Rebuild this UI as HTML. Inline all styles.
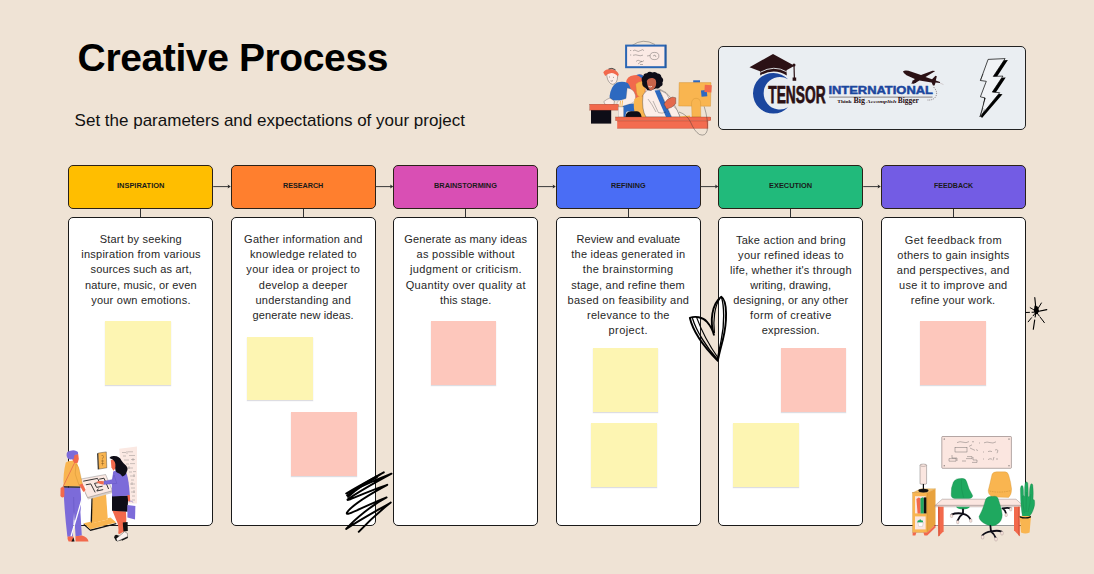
<!DOCTYPE html>
<html>
<head>
<meta charset="utf-8">
<title>Creative Process</title>
<style>
  html, body { margin: 0; padding: 0; }
  body {
    width: 1094px; height: 574px; overflow: hidden; position: relative;
    background: #EFE3D5;
    font-family: "Liberation Sans", sans-serif;
    color: #111;
  }
  .abs { position: absolute; }
  #title {
    position: absolute; left: 77.6px; top: 34.2px;
    font-size: 39px; font-weight: bold; line-height: 48px;
    white-space: nowrap; color: #000; letter-spacing: -0.38px;
    transform-origin: left top;
  }
  #subtitle {
    position: absolute; left: 74.6px; top: 110px;
    font-size: 17px; line-height: 22px; white-space: nowrap; color: #111;
    transform-origin: left top;
  }
  .hdr {
    position: absolute; top: 165px; width: 144.9px; height: 44px;
    box-sizing: border-box; border: 1px solid #2a2118; border-radius: 5px;
    text-align: left; font-weight: bold; font-size: 8px; line-height: 39.6px;
    color: #1a1a1a; white-space: nowrap;
  }
  .hdr span { display: inline-block; transform-origin: left center; }
  .card {
    position: absolute; top: 217px; width: 144.9px; height: 309px;
    box-sizing: border-box; border: 1px solid #1a1a1a; border-radius: 5px;
    background: #fff;
  }
  .txt {
    position: absolute; width: 144.9px; text-align: left;
    color: #262626; white-space: nowrap;
  }
  .stem { position: absolute; top: 209px; width: 1px; height: 8px; background: #333; }
  .note { position: absolute; width: 65.6px; height: 63.6px; box-shadow: 0 1px 1px rgba(120,120,140,0.25); }
  .ny { background: #FDF5B2; }
  .np { background: #FDC7BC; }
  #logo {
    position: absolute; left: 718px; top: 46px; width: 308px; height: 84px;
    box-sizing: border-box; border: 1px solid #222; border-radius: 5px; background: #EAEEF2;
  }
  svg { position: absolute; overflow: visible; }
  .txt span { display: block; position: absolute; line-height: 15px; }
</style>
</head>
<body>

<div id="title">Creative Process</div>
<div id="subtitle">Set the parameters and expectations of your project</div>

<!-- header boxes -->
<!--HDR-START-->
<div class="hdr" style="left:68.3px;background:#FFBE00;"><span style="transform:scaleX(0.9290);margin-left:47.95px">INSPIRATION</span></div>
<div class="hdr" style="left:230.8px;background:#FF7F2E;"><span style="transform:scaleX(0.8974);margin-left:51.30px">RESEARCH</span></div>
<div class="hdr" style="left:393.3px;background:#D94FB4;"><span style="transform:scaleX(0.9210);margin-left:40.10px">BRAINSTORMING</span></div>
<div class="hdr" style="left:555.8px;background:#4A6DF5;"><span style="transform:scaleX(0.9049);margin-left:54.20px">REFINING</span></div>
<div class="hdr" style="left:718.3px;background:#21BA7B;"><span style="transform:scaleX(0.9256);margin-left:49.90px">EXECUTION</span></div>
<div class="hdr" style="left:880.8px;background:#735CE4;"><span style="transform:scaleX(0.8818);margin-left:51.80px">FEEDBACK</span></div>
<!--HDR-END-->

<!-- stems -->
<div class="stem" style="left:140.3px;"></div>
<div class="stem" style="left:302.8px;"></div>
<div class="stem" style="left:465.3px;"></div>
<div class="stem" style="left:627.8px;"></div>
<div class="stem" style="left:790.3px;"></div>
<div class="stem" style="left:952.8px;"></div>

<!-- cards -->
<div class="card" style="left:68.3px;"></div>
<div class="card" style="left:230.8px;"></div>
<div class="card" style="left:393.3px;"></div>
<div class="card" style="left:555.8px;"></div>
<div class="card" style="left:718.3px;"></div>
<div class="card" style="left:880.8px;"></div>

<!-- card text -->
<!--TEXT-START-->
<div class="txt" style="left:68.3px;top:0.00px;font-size:11.0px;"><span style="letter-spacing:0.208px;left:31.45px;top:232px">Start by seeking</span><span style="letter-spacing:0.245px;left:12.97px;top:247px">inspiration from various</span><span style="letter-spacing:0.148px;left:22.22px;top:262px">sources such as art,</span><span style="letter-spacing:0.125px;left:16.81px;top:278px">nature, music, or even</span><span style="letter-spacing:0.234px;left:22.87px;top:293px">your own emotions.</span></div>
<div class="txt" style="left:230.8px;top:0.00px;font-size:11.0px;"><span style="letter-spacing:0.281px;left:13.29px;top:232px">Gather information and</span><span style="letter-spacing:0.274px;left:19.19px;top:247px">knowledge related to</span><span style="letter-spacing:0.331px;left:15.52px;top:262px">your idea or project to</span><span style="letter-spacing:0.249px;left:27.97px;top:278px">develop a deeper</span><span style="letter-spacing:0.262px;left:24.68px;top:293px">understanding and</span><span style="letter-spacing:0.112px;left:21.81px;top:308px">generate new ideas.</span></div>
<div class="txt" style="left:393.3px;top:0.00px;font-size:11.0px;"><span style="letter-spacing:0.138px;left:11.02px;top:232px">Generate as many ideas</span><span style="letter-spacing:0.281px;left:23.29px;top:247px">as possible without</span><span style="letter-spacing:0.363px;left:16.63px;top:262px">judgment or criticism.</span><span style="letter-spacing:0.316px;left:12.41px;top:278px">Quantity over quality at</span><span style="letter-spacing:0.124px;left:46.71px;top:293px">this stage.</span></div>
<div class="txt" style="left:555.8px;top:0.00px;font-size:11.0px;"><span style="letter-spacing:0.093px;left:20.60px;top:232px">Review and evaluate</span><span style="letter-spacing:0.237px;left:15.47px;top:247px">the ideas generated in</span><span style="letter-spacing:0.335px;left:27.02px;top:262px">the brainstorming</span><span style="letter-spacing:0.192px;left:15.45px;top:278px">stage, and refine them</span><span style="letter-spacing:0.276px;left:11.79px;top:293px">based on feasibility and</span><span style="letter-spacing:0.282px;left:31.19px;top:308px">relevance to the</span><span style="letter-spacing:0.403px;left:52.75px;top:323px">project.</span></div>
<div class="txt" style="left:718.3px;top:0.00px;font-size:11.0px;"><span style="letter-spacing:0.253px;left:17.68px;top:233px">Take action and bring</span><span style="letter-spacing:0.292px;left:19.80px;top:248px">your refined ideas to</span><span style="letter-spacing:0.226px;left:11.76px;top:263px">life, whether it's through</span><span style="letter-spacing:0.083px;left:31.99px;top:278px">writing, drawing,</span><span style="letter-spacing:0.138px;left:14.92px;top:293px">designing, or any other</span><span style="letter-spacing:0.368px;left:31.73px;top:308px">form of creative</span><span style="letter-spacing:0.149px;left:43.52px;top:323px">expression.</span></div>
<div class="txt" style="left:880.8px;top:0.00px;font-size:11.0px;"><span style="letter-spacing:0.406px;left:23.95px;top:233px">Get feedback from</span><span style="letter-spacing:0.225px;left:16.56px;top:248px">others to gain insights</span><span style="letter-spacing:0.241px;left:16.07px;top:263px">and perspectives, and</span><span style="letter-spacing:0.304px;left:18.20px;top:278px">use it to improve and</span><span style="letter-spacing:0.187px;left:30.04px;top:293px">refine your work.</span></div>
<!--TEXT-END-->

<!-- sticky notes -->
<div class="note ny" style="left:105px;top:321px;"></div>
<div class="note ny" style="left:247.2px;top:336.8px;"></div>
<div class="note np" style="left:291px;top:412px;"></div>
<div class="note np" style="left:430.8px;top:321px;"></div>
<div class="note ny" style="left:592.6px;top:348px;"></div>
<div class="note ny" style="left:591px;top:423px;"></div>
<div class="note np" style="left:780.6px;top:348px;"></div>
<div class="note ny" style="left:733px;top:423px;"></div>
<div class="note np" style="left:920px;top:321px;"></div>

<!-- logo box -->
<div id="logo"></div>

<!-- arrows between headers -->
<svg id="arrows" width="1094" height="574" style="left:0;top:0;" viewBox="0 0 1094 574">
  <path d="M213.2 186.6H229.8" stroke="#3a3a3a" stroke-width="1" fill="none"/><path d="M230.8 186.6L227.6 184.6L228.2 186.6L227.6 188.6Z" fill="#2a2a2a"/>
  <path d="M375.7 186.6H392.3" stroke="#3a3a3a" stroke-width="1" fill="none"/><path d="M393.3 186.6L390.1 184.6L390.7 186.6L390.1 188.6Z" fill="#2a2a2a"/>
  <path d="M538.2 186.6H554.8" stroke="#3a3a3a" stroke-width="1" fill="none"/><path d="M555.8 186.6L552.6 184.6L553.2 186.6L552.6 188.6Z" fill="#2a2a2a"/>
  <path d="M700.7 186.6H717.3" stroke="#3a3a3a" stroke-width="1" fill="none"/><path d="M718.3 186.6L715.1 184.6L715.7 186.6L715.1 188.6Z" fill="#2a2a2a"/>
  <path d="M863.2 186.6H879.8" stroke="#3a3a3a" stroke-width="1" fill="none"/><path d="M880.8 186.6L877.6 184.6L878.2 186.6L877.6 188.6Z" fill="#2a2a2a"/>
</svg>


<!-- LOGO + DOODLES -->
<svg id="art1" width="1094" height="574" style="left:0;top:0;" viewBox="0 0 1094 574">
  <!-- crescent -->
  <path d="M788 79.3 A20.3 20.3 0 1 0 788 107.3 A16.2 16.2 0 1 1 788 79.3 Z" fill="#1B469E"/>
  <!-- graduation cap -->
  <path d="M749.5 67.3 L773 54 L794.5 65.8 L786.5 70.3 L786.8 75.5 Q774 67.5 760.3 75.5 L760 71.2 Z" fill="#2B1115"/>
  <path d="M760.2 72.3 Q774 64.5 786.7 71.8" fill="none" stroke="#EAEEF2" stroke-width="0.9"/>
  <path d="M794 65.5 L794.4 78.5" stroke="#2B1115" stroke-width="1.2" fill="none"/>
  <circle cx="794" cy="65" r="1.5" fill="#2B1115"/>
  <path d="M792.6 77.5 h3.6 v3.3 h-3.6 Z" fill="#2B1115"/>
  <!-- TENSOR -->
  <text x="768.3" y="102.8" font-family="Liberation Sans" font-weight="bold" font-size="24.3" fill="#2B1115" stroke="#2B1115" stroke-width="0.75" textLength="57.3" lengthAdjust="spacingAndGlyphs">TENSOR</text>
  <!-- INTERNATIONAL -->
  <text x="828.4" y="94" font-family="Liberation Sans" font-weight="bold" font-size="11.8" fill="#1B469E" stroke="#1B469E" stroke-width="0.5" textLength="104.6" lengthAdjust="spacingAndGlyphs">INTERNATIONAL</text>
  <rect x="829" y="96.4" width="103.5" height="1.5" fill="#A9A6A8"/>
  <!-- tagline -->
  <text y="102.9" font-family="Liberation Serif" font-weight="bold" fill="#2B1115">
    <tspan x="837.2" font-size="4.6" textLength="14.5" lengthAdjust="spacingAndGlyphs">Think</tspan>
    <tspan x="853.5" font-size="7.2" textLength="11.5" lengthAdjust="spacingAndGlyphs">Big</tspan>
    <tspan x="866.5" font-size="4.4" font-style="italic" textLength="30" lengthAdjust="spacingAndGlyphs">Accomplish</tspan>
    <tspan x="897.8" font-size="7.2" textLength="21" lengthAdjust="spacingAndGlyphs">Bigger</tspan>
  </text>
  <!-- plane -->
  <g fill="#2B1115">
    <path d="M903 71.3 Q905 69.8 908.5 70.8 L921 75 L932.5 70.8 L935.3 71 L925.5 77 L932 79.3 L935.5 75.8 L936.8 76.2 L935.8 80.6 L940 82 L940 83 L935.6 82.6 L934.5 85.6 L933 85.4 L931.6 82.6 L919.5 80.4 L913.8 83.8 L911.2 83.4 L914.8 79 L906.5 75.3 Q903.3 73.6 903 71.3 Z"/>
    <ellipse cx="914.3" cy="81.6" rx="2.1" ry="1.1" transform="rotate(18 914.3 81.6)"/>
  </g>
  <path d="M940 83 L943.5 84.6" stroke="#b9a9aa" stroke-width="0.5"/>
  <path d="M933.5 87 Q938.5 92 935.5 97 Q933 100.5 927 100" fill="none" stroke="#2B1115" stroke-width="0.45" stroke-dasharray="1.3 0.9"/>
  <!-- lightning bolt -->
  <path d="M990.9 60.9 L1007.9 60.1 L996.1 77.9 L1005.7 77.6 L995.1 93.6 L1002.5 94.2 L982 118 L981 116.8 Z" fill="#000"/>
  <path d="M988.1 59.4 L1005.1 58.6 L993.3 76.4 L1002.9 76.1 L992.3 92.1 L999.7 92.7 L980 116.8 L985.2 98 L980.4 96.8 L986.3 81.3 L980.4 80.5 Z" fill="#F1F3F6" stroke="#000" stroke-width="0.7" stroke-linejoin="round"/>
  <path d="M980 116.8 L983 108 M981.8 116 L984.5 109.5 M980.4 80.5 L983 74" stroke="#000" stroke-width="0.4" fill="none"/>

  <!-- scribble -->
  <path d="M383.8 472.3 C372 479 357 487 346.2 493.6 C358 488 378 479 391.5 473.7 C378 481 360 491 347.5 499.5 C346.5 502 360 494 387.3 484.8 C372 493 352 505 347 512.5 C344.5 517.5 360 508 386.6 497.4 C372 505 355 519 346.2 529 C358 521 378 510 390.8 502.5 C380 511 368 522 358.7 531.8"
        fill="none" stroke="#000" stroke-width="1.9" stroke-linecap="round" stroke-linejoin="round"/>
  <path d="M380 474.5 C368 481 355 489 347 495.5 M377 477.5 C366 483 356 489.5 348 497" fill="none" stroke="#000" stroke-width="1.8" stroke-linecap="round"/>

  <!-- heart doodle -->
  <g fill="none" stroke="#000" stroke-linecap="round" stroke-linejoin="round">
    <path stroke-width="1.9" d="M689.8 317.8 C695 316 702.5 316.8 707 321.8 C710.8 326.2 713 331 713.9 334.8 C709.8 322 711.5 304 721.3 296.8 C727.6 301 727.2 322 722.8 340 C721 347 719 354 717.8 360.8 C709 352 694 336 689.8 317.8 Z"/>
    <path stroke-width="1.35" d="M692.6 318.6 C696 330 706 347 717.6 359.5"/>
    <path stroke-width="1.2" d="M696.6 317.4 C700.5 328 709 345 717.8 357.5"/>
    <path stroke-width="1.35" d="M721.6 297.6 C724.2 306 724.6 324 721.4 339 C720 347 718.4 353 717.6 358.5"/>
    <path stroke-width="1.2" d="M719.6 299 C714.6 306 713 320 714.4 332.5"/>
  </g>
  <!-- star doodle -->
  <g stroke="#000" stroke-linecap="round" fill="none">
    <path d="M1036.2 311.5 L1034.8 297.6" stroke-width="1.1"/>
    <path d="M1036.5 311 L1041.4 303" stroke-width="1"/>
    <path d="M1036.5 311.8 L1046.8 309.6" stroke-width="1.1"/>
    <path d="M1037 313 L1044.2 322.4" stroke-width="1" stroke-dasharray="4 1.5 6 0"/>
    <path d="M1035.6 314 L1033.3 329.3" stroke-width="1.1" stroke-dasharray="3 3 8 0"/>
    <path d="M1035 313.5 L1028.2 321.8" stroke-width="1" stroke-dasharray="3 2.5 8 0"/>
    <path d="M1034 312.2 L1026 312.5" stroke-width="1" stroke-dasharray="2 2.5 8 0"/>
    <path d="M1035 310.5 L1030.2 307.7" stroke-width="0.9"/>
  </g>
  <path d="M1034.6 305.5 L1037.6 306.5 L1039 310.6 L1037.8 314 L1035 314.2 L1033.8 311 Z" fill="#000"/>
</svg>


<!-- TOP ILLUSTRATION -->
<svg id="art2" width="1094" height="574" style="left:0;top:0;" viewBox="0 0 1094 574">
  <!-- whiteboard -->
  <path d="M632 45.5 Q643 37.5 655 44.5" fill="none" stroke="#3a3a3a" stroke-width="0.4"/>
  <rect x="626.1" y="45.6" width="39.3" height="21.6" fill="#FBEAE5" stroke="#2A66B4" stroke-width="2"/>
  <path d="M666 44.8 V68" stroke="#1d4a8a" stroke-width="0.8"/>
  <g fill="none" stroke="#333" stroke-width="0.35">
    <path d="M630 50.5 h1.2 M633 50.8 q2 -1.5 3.5 0 t4 -0.3 t3.5 0.2 M630 55 h1.2 M633 55.3 q3 -1 5 0 t5 -0.2 M636 61.5 q2 -2.5 4 -0.5 t4 -0.5 M638 64 l4 -3 M640 64.5 h3"/>
    <ellipse cx="654.5" cy="56" rx="4.4" ry="3.6"/>
    <path d="M647 56 l3 -0.5 M653 56 l2 -1 l1 2"/>
  </g>
  <!-- man's chair -->
  <path d="M626 83 Q626.6 75.6 634 75.2 L641.5 74.6 Q645 77 645.4 84 L645.6 98 L636 100 Q632 96 630 90 Z" fill="#F2694C"/>
  <path d="M636.5 75 Q641.5 72.8 644.6 77.2 L645.3 83 Q642 77 636.5 75 Z" fill="#2D69C0"/>
  <!-- blue lower body -->
  <path d="M622.5 104.5 L635 103.5 L635 111.5 L627 111.5 Q625.6 112.5 625.4 117 L622.5 117 Z" fill="#2D69C0"/>
  <!-- man body -->
  <path d="M609.6 96 Q611 86 617 82.4 Q623 80.6 627.6 83 Q631.6 87 630.4 94 L627 100 L610 100.5 Z" fill="#2D69C0"/>
  <path d="M627.2 88 Q633.6 88.6 635.4 95 Q636.6 101.6 631 103.6 L621.6 106.6 Q616.6 106.6 617 103.2 L618 101 L626 98.6 Z" fill="#FCEEE8" stroke="#555" stroke-width="0.25"/>
  <path d="M610 98 Q606.5 99.2 603.8 101.6 Q604 105 608 105.4 L614 104.4 L614.4 101 Z" fill="#FCEEE8" stroke="#222" stroke-width="0.3"/>
  <!-- man head -->
  <path d="M606.8 76 Q606 69.8 612 69.6 Q617.8 70 617.6 76.5 Q617.4 83.6 612.8 84.4 Q608 83.5 606.8 76 Z" fill="#FCEEE8" stroke="#222" stroke-width="0.35"/>
  <path d="M603.3 72.6 Q604.5 69.5 609 69.2 Q616 68.6 618.8 74.2 L618 76.6 Q615 73 611.5 73 Q607.5 73.6 605.2 76 Z" fill="#F2694C"/>
  <path d="M608.5 69 Q612 67.2 615.5 69.8" fill="none" stroke="#111" stroke-width="0.7"/>
  <path d="M609 77 h1 M613 77.4 h1 M610.6 80.8 q1.3 0.8 2.4 -0.2" stroke="#222" stroke-width="0.4" fill="none"/>
  <!-- pillow -->
  <path d="M635.8 84 Q639.6 80.6 644.6 82 Q646 88 644.4 94 L640.4 97.6 Q636 95.4 636.4 90 Z" fill="#F9B550" stroke="#c98a2d" stroke-width="0.3"/>
  <path d="M634.4 99 Q638.6 95.4 643.6 96.4 L646 104 Q647 111 651.6 117 L636 117 Q632.6 108 634.4 99 Z" fill="#F9B550"/>
  <!-- woman coat -->
  <path d="M643 95 Q646.6 89 653 88.6 L660 89.4 Q667 92 670 97 L676 108 L680 117 L646 117 Q641.4 110 643 95 Z" fill="#FCEEE8" stroke="#222" stroke-width="0.35"/>
  <path d="M654.6 90.4 L659.6 90 L671.6 117 L666 117 Z" fill="#2D69C0"/>
  <path d="M659.6 90 L666.4 93.6 L672.6 105 L677 110 L680 117 L671.6 117 Z" fill="#FCEEE8" stroke="#222" stroke-width="0.3"/>
  <path d="M648 99 Q652 104 656 112 M653 101 L658.4 112.6 Q662 114 666 112" fill="none" stroke="#222" stroke-width="0.3"/>
  <!-- woman hands -->
  <path d="M664 104 Q666.6 98.6 672.4 97 L675.8 97.8 L675.8 103.6 Q672 108.4 666.6 109 Z" fill="#E4694C" stroke="#222" stroke-width="0.3"/>
  <!-- woman head -->
  <path d="M642.2 82 Q640.6 78 643.4 76 Q643.6 73 647 73.2 Q649 70.8 652.4 72.4 Q655.6 71.2 657.6 73.6 Q661 73.8 661.4 77 Q664.4 79.4 662.4 82.6 Q663.4 85.8 660.2 86.8 Q659 89.4 656 88.2 L651 90.4 Q647 91 645.6 88 Q641.6 86.6 642.2 82 Z" fill="#0E0D17"/>
  <path d="M646.8 81 Q648.2 77.8 652.4 78 Q656 78.4 656.2 82.4 Q656.2 87.4 653 89.4 Q651 91 649.4 89.6 Q647.4 87 646.8 81 Z" fill="#C8644A"/>
  <path d="M648.4 86.2 q1.8 1.4 3.6 0.2" stroke="#fff" stroke-width="0.7" fill="none"/>
  <!-- left small desk -->
  <rect x="591" y="110" width="20.2" height="13.6" fill="#0E0D17"/>
  <rect x="589.8" y="104.2" width="28.6" height="5.9" fill="#F2694C" stroke="#8a2f1f" stroke-width="0.3"/>
  <!-- cup + pencils -->
  <path d="M619.8 107 L620.5 101 M621.8 107 L622.6 100.5" stroke="#F9B550" stroke-width="0.9"/>
  <rect x="618.4" y="107" width="5.1" height="10" fill="#FCEEE8" stroke="#999" stroke-width="0.3"/>
  <!-- black object -->
  <path d="M625.3 117 Q626 111.6 631 111.3 L637 111.3 Q641 111.8 641.6 117 Z" fill="#0E0D17"/>
  <!-- monitor -->
  <rect x="693.2" y="80.3" width="6.8" height="2.4" fill="#2D69C0"/>
  <path d="M679.2 82.6 L711 82.6 L710.5 106.2 L678.7 106 Z" fill="#F9B550" stroke="#c98a2d" stroke-width="0.4"/>
  <path d="M691.5 103 Q692 98.5 696 98.3 Q700.5 98.5 700.6 103 L700.8 117 L692 117 Z" fill="#F9B550" stroke="#c98a2d" stroke-width="0.35"/>
  <path d="M680 116.5 L690 115.5 L690 117.2 L680 117.2 Z" fill="#F9B550"/>
  <rect x="701.2" y="90.2" width="5.8" height="6.3" fill="#2D69C0" transform="rotate(-6 704 93)"/>
  <rect x="704.6" y="85" width="7" height="7.2" fill="#F2694C" transform="rotate(4 708 88.5)"/>
  <!-- desk -->
  <rect x="615.6" y="117" width="95.2" height="3.6" fill="#F2694C" stroke="#8a2f1f" stroke-width="0.3"/>
  <rect x="617.2" y="120.6" width="91" height="7.8" fill="#F36C50"/>
  <path d="M617.2 121 H708.2" stroke="#b8432c" stroke-width="0.4"/>
  <path d="M617.2 128.4 H708.2" stroke="#b8432c" stroke-width="0.35"/>
  <!-- cable -->
  <path d="M679 112 Q687 114.5 690.5 122 Q694.5 131.5 699.5 134.5 Q705.5 136.8 707.2 130.5 Q708.5 120 704.2 106.5" fill="none" stroke="#333" stroke-width="0.4"/>
</svg>


<!-- BOTTOM-LEFT ILLUSTRATION -->
<svg id="art3" width="1094" height="574" style="left:0;top:0;" viewBox="0 0 1094 574">
  <!-- wall panel -->
  <path d="M119.2 448.8 L137 446.6 L137 503.5 L128 503.5 L121 470 Z" fill="#FBE9E3"/>
  <g stroke="#555" stroke-width="0.3" fill="none">
    <path d="M122 452.5 h4 M128 451.8 h5 M123 456 h3 M129 455.5 h6 M124 460 h5 M131 459.5 h4 M126 464 h3 M130 463.6 h5 M127 468 h6 M129 472 h3 M133 471.6 h3 M130 476 h5 M131 480 h3 M130 484 h5 M131 488 h4 M131 492 h4 M132 496 h3 M132 500 h3"/>
    <path d="M127 451 v3 M133 458 v3 M129 466 v3 M134 474 v3 M132 482 v3 M134 490 v3"/>
  </g>
  <!-- sign -->
  <path d="M97.2 453.4 L98.4 453.1 L98.9 469.2 L97.8 469.5 Z" fill="#111"/>
  <path d="M98.2 453.1 L106.3 451.9 L106.8 467.8 L98.8 469.1 Z" fill="#F9B550" stroke="#111" stroke-width="0.35"/>
  <path d="M101.5 455.5 q2 -0.8 2 1.2 t-1.6 1.8 M101 461 h3 M101.2 463.5 h3 M102.5 459.5 v6" stroke="#5a3b10" stroke-width="0.35" fill="none"/>

  <!-- kiosk stand -->
  <path d="M92.3 495.6 L105.9 492.6 L107.8 519.4 L91.5 523.4 Z" fill="#F9B550"/>
  <path d="M91.5 496 L92.6 495.6 L92 523.4 L90.6 523.1 Z" fill="#111"/>
  <!-- kiosk base -->
  <path d="M83.7 523.6 L90.4 529.6 L116.3 522.9 L116.3 524.3 L90.4 531 L83.7 525 Z" fill="#111"/>
  <path d="M83.7 523.3 L91.5 521.5 L91.6 523.3 L107.7 519.4 L107.5 518.2 L110.5 517.6 L116.3 522.5 L90.4 529.2 Z" fill="#F9B550"/>
  <!-- kiosk table top -->
  <path d="M79.4 480 L80.2 482.6 L88 499.6 L112.6 492.9 L112.4 490.7 Z" fill="#d9cfc8"/>
  <path d="M79 479.4 L105.6 474.5 L112.4 490.7 L87.6 497.5 Z" fill="#FBE9E3" stroke="#444" stroke-width="0.3"/>
  <g stroke="#222" stroke-width="0.9" fill="none" stroke-linejoin="round">
    <path d="M83.2 481.2 L97.5 478.4 L99.5 482.4 L94.5 483.4 L96.6 487.4 L102.6 486.2"/>
    <path d="M85.8 484.8 L90.8 483.9 L95.2 492.4"/>
    <path d="M99.2 479.2 L104 478.2 L108.6 489"/>
    <path d="M98.4 488.6 L96.8 491 L103.2 489.6"/>
  </g>

  <!-- man: cane -->
  <!-- man trousers -->
  <path d="M63.5 487.2 L80.2 487.4 Q82 500 80.4 512 L81.8 535.6 L75.6 536.6 L74 512 L72.8 536.8 L67.4 536.8 Q64.2 510 63.5 487.2 Z" fill="#7C6BD9"/>
  <path d="M73.6 497 L74.2 520" stroke="#5747b5" stroke-width="0.35"/>
  <path d="M85.7 486.2 L71.2 535.8" stroke="#FDFDFD" stroke-width="1.3" stroke-linecap="round"/>
  <!-- man shoes -->
  <path d="M67.6 536.4 L73.4 536.4 L73.4 541.4 L68.6 541.4 Q67 539 67.6 536.4 Z" fill="#F2694C"/>
  <path d="M75.4 536.2 L82 535.6 Q87.6 537.4 88.6 541.4 L75.6 541.4 Z" fill="#F2694C"/>
  <path d="M71.4 541.4 L73.4 537.2 L74.6 541.4 Z" fill="#111"/>
  <!-- man shirt -->
  <path d="M65.8 462.4 Q70 459.4 76.6 461.6 Q78.6 466 79 472 L80.4 486.6 L63.6 486.6 Q62.8 474 65.8 462.4 Z" fill="#F9B550"/>
  <path d="M63.5 486.2 L80.4 486.4 L80.4 487.7 L63.5 487.5 Z" fill="#111"/>
  <!-- arm -->
  <path d="M76 464 Q79 466 79.8 472 L82.4 484 L79 485.2 L75.2 474 Z" fill="#F9B550" stroke="#b97d22" stroke-width="0.3"/>
  <path d="M79.2 484.8 L82.6 483.8 L85.4 489.4 Q85.4 492.2 83.2 491.8 Z" fill="#F2694C"/>
  <!-- strap + bag -->
  <path d="M74.4 463.2 L62.4 488" stroke="#E4694C" stroke-width="0.8"/>
  <path d="M60.6 488 Q62.4 486.2 64.4 487.6 L64.4 496.4 Q62 498.6 60.4 496 Z" fill="#F2694C"/>
  <!-- man head -->
  <path d="M72.8 454.4 L78.2 454 L78.8 459 L77.8 462.8 L74.4 463.2 L72.4 460 Z" fill="#F2694C"/>
  <path d="M66.6 455.4 Q66.2 451.2 70.4 450.8 Q73.6 449.6 76.2 451 Q78.6 451.6 78 454.2 L74.6 455 L73.6 459.2 L70.2 459.6 Q67 458.6 66.6 455.4 Z" fill="#7C6BD9"/>

  <!-- woman: legs -->
  <path d="M112.4 510.6 L126 511.6 Q127 520 125.4 528 L124.6 531 L119.6 534 L118.2 533.4 Q119.4 526 116.2 520 Z" fill="#F2694C"/>
  <path d="M122.8 522.4 L127.6 522 L127.8 531 L123.4 531.4 Z" fill="#111"/>
  <!-- shoes -->
  <path d="M114.2 537.6 Q114 535.6 116 534.8 L120 536 L120.8 540.4 L116 541 Z" fill="#111"/>
  <path d="M116.2 538.6 L124.6 531.6 L127.4 533.4 L127.6 536.6 L117.2 541.4 Z" fill="#FBF3EF" stroke="#111" stroke-width="0.35"/>
  <path d="M121 539.8 L127.8 536.6 L127.8 538 L122 540.8 Z" fill="#111"/>
  <!-- skirt -->
  <path d="M112 495.4 L128.2 495.4 L127.6 511.8 L112 510.8 Z" fill="#0E0D17"/>
  <!-- bag -->
  <path d="M128.8 502 Q131 499.6 133.2 502.4" stroke="#5747b5" stroke-width="0.5" fill="none"/>
  <path d="M127.4 505 L135.4 506 L135 519.6 L127.4 517.6 Z" fill="#7C6BD9"/>
  <!-- sweater -->
  <path d="M113.2 471.6 Q119 468.6 126.6 473.4 Q129 480 129.8 495.4 L112.2 496.4 Q111 485 113.2 471.6 Z" fill="#7C6BD9"/>
  <path d="M114 475 L116.8 483.4 L103.6 484.4 L103.8 481.2 L112.6 479.4 Z" fill="#7C6BD9" stroke="#5747b5" stroke-width="0.3"/>
  <path d="M96.2 482 Q99 480.6 103.8 481.2 L103.6 484.4 Q99.6 484.6 96.2 482 Z" fill="#F2694C"/>
  <path d="M127.4 495 L129.8 495 L130.2 501 L128.2 501.4 Z" fill="#F2694C"/>
  <!-- woman head -->
  <path d="M110.8 460 L115.4 459.2 L116.2 467.6 L113.4 470.8 L111.4 467.2 Z" fill="#F2694C"/>
  <path d="M109.4 458 Q110.6 455.6 114.2 456 Q119.6 456 121.4 460.6 Q123.2 463.4 126 465.6 Q128.6 468.4 126.8 471.6 Q126 475.4 122.4 476.6 Q120.6 473.4 117 472.4 Q114.6 470.6 115.4 466.4 Q115.8 461.4 112.6 459.4 Z" fill="#0E0D17"/>
</svg>


<!-- BOTTOM-RIGHT ILLUSTRATION -->
<svg id="art4" width="1094" height="574" style="left:0;top:0;" viewBox="0 0 1094 574">
  <path d="M935.6 525.6 H1014" stroke="#fff" stroke-opacity="0.55" stroke-width="1.4"/>
  <!-- whiteboard -->
  <rect x="941.8" y="436.5" width="69.6" height="31.8" rx="0.8" fill="#FBE6E0" stroke="#6b5a58" stroke-width="0.5"/>
  <g fill="#333"><circle cx="944.2" cy="439" r="0.55"/><circle cx="1009" cy="439" r="0.55"/><circle cx="944.2" cy="465.8" r="0.55"/><circle cx="1009" cy="465.8" r="0.55"/></g>
  <g fill="none" stroke="#444" stroke-width="0.35">
    <path d="M957 442.6 q3 -1.6 6 -0.4 t6 -0.6 M972 442 q1 -1 2 0 M979 443 h1 M984 442.8 q3 -1.4 6 -0.2 t6 -0.8"/>
    <rect x="955" y="447.6" width="12" height="4.4"/>
    <path d="M969 446.4 l3 -1.6 M970 448 l5 2.4 M976 449.6 l2 1"/>
    <path d="M983 452 h1 M988 451.6 q2 -1 4 0 M995 450 q2 -1 3 0.6 l-1 2.6"/>
    <path d="M952 455 v3 h5 v3 M949 458.6 h7 v2.6 h-7 z M962 461 h4 M967 456.6 h5 v2 h-6 M973 457 v3 h4 v2.4 h-5"/>
    <path d="M983 459 h1 M988 459.6 q2 -1.6 4 -0.4 M994 457 l-1 3.4 M996 459 h2"/>
  </g>
  <!-- shelf -->
  <path d="M912.6 492.8 L921 488.8 L935.5 488.8 L927 492.8 Z" fill="#FBC56E" stroke="#b97d22" stroke-width="0.3"/>
  <path d="M927 492.8 L935.5 488.8 L935.5 524.4 L927 532.4 Z" fill="#E8A23E"/>
  <rect x="912.6" y="492.8" width="14.4" height="39.6" fill="#F9B550" stroke="#b97d22" stroke-width="0.3"/>
  <rect x="915" y="496.2" width="10.6" height="17.2" fill="#FBE6E0"/>
  <path d="M916.4 499 L918.6 497.4 L920.4 498.2 L920.6 513.4 L917.6 513.4 Z" fill="#F2694C"/>
  <path d="M920.4 498.6 L922.6 497.2 L923.8 498 L923.8 513.4 L920.6 513.4 Z" fill="#1FA85F"/>
  <rect x="923.8" y="497.4" width="2.6" height="16" fill="#111"/>
  <rect x="915" y="516.4" width="10.6" height="13" fill="#FBE6E0"/>
  <path d="M917.2 522.6 q0.4 -3.2 2 -2.2 q1 -2.4 2 0 q1.8 -1 2 2.2 Z" fill="#1FA85F"/>
  <path d="M918 522.6 h5.2 l-0.7 3.8 h-3.8 Z" fill="#fff" stroke="#888" stroke-width="0.25"/>
  <path d="M912.6 532.4 L916.4 532.4 L915.4 535.4 L912.6 535.4 Z M923.4 532.4 L927 532.4 L935.5 524.4 L935.5 527.4 L927.2 535.6 L924.4 535.6 Z" fill="#F2694C"/>

  <!-- lamp -->
  <rect x="920" y="464.6" width="6.6" height="19.6" rx="1" fill="#FBE6E0" stroke="#444" stroke-width="0.35"/>
  <ellipse cx="923.3" cy="465.2" rx="3.2" ry="1.2" fill="#FBE6E0" stroke="#444" stroke-width="0.3"/>
  <rect x="922.8" y="484" width="1.2" height="6" fill="#111"/>
  <ellipse cx="923.4" cy="490.6" rx="5.1" ry="1.9" fill="#111"/>
  <!-- back-left green chair -->
  <path d="M953.4 482 Q955.4 478.2 961 478.4 Q965.6 478 966.6 481.6 Q968.4 489 972.6 495.4 Q973 498 969 498.4 L954.6 498.6 Q950.8 498 951.2 494 Q951 487 953.4 482 Z" fill="#1FA85F" stroke="#157a45" stroke-width="0.3"/>
  <path d="M961.4 479.6 Q960.6 489 963.6 497.6" fill="none" stroke="#157a45" stroke-width="0.3"/>
  <!-- orange chair (back-right) -->
  <path d="M992 474.6 Q993 471.6 997 471.8 L1005 471.8 Q1008 472 1008.8 475.6 Q1011 482.6 1011.6 489 Q1011.6 495 1008.6 497.4 L992.6 497 Q988.2 495 988.2 490.6 Q990.4 482 992 474.6 Z" fill="#F9B550" stroke="#c98a2d" stroke-width="0.3"/>
  <path d="M989.6 491 Q1000 493.4 1010.8 490.6" fill="none" stroke="#a86f1c" stroke-width="0.3" stroke-dasharray="1.6 0.8"/>

  <!-- table -->
  <path d="M935.2 505.4 L942.2 499.2 L1016 499.2 L1023 505.4 Z" fill="#FBE6E0" stroke="#6b5a58" stroke-width="0.35"/>
  <path d="M935.2 505.4 L1023 505.4 L1023 506.8 L935.2 506.8 Z" fill="#FBE6E0" stroke="#6b5a58" stroke-width="0.3"/>
  <path d="M938 506.8 L943.6 506.8 L943.6 531.2 L938.4 536.4 Z" fill="#F2694C"/>
  <path d="M938 506.8 L939.4 506.8 L939.6 535.2 L938.4 536.4 Z" fill="#d9553a"/>
  <path d="M1014 506.8 L1019.6 506.8 L1019.6 536.2 L1014 530.2 Z" fill="#F2694C"/>
  <path d="M1018.2 506.8 L1019.6 506.8 L1019.6 536.2 L1018.4 535 Z" fill="#d9553a"/>

  <!-- back-left chair seat + base -->
  <path d="M956 506.8 L970 506.8 Q968 509.4 963 509.4 Q958 509.4 956 506.8 Z" fill="#1FA85F"/>
  <g stroke="#0E0D17" stroke-width="1.8" fill="none" stroke-linecap="round">
    <path d="M963 509.4 L963 514 M963 513.6 Q956 512.6 951.6 514.6 M963 513.8 Q959.4 516 957.6 520.6 M963 513.8 Q968.6 515 970.4 519.4"/>
  </g>
  <g fill="#FBE6E0" stroke="#6b5a58" stroke-width="0.25"><rect x="950.4" y="514.2" width="2.3" height="3.3" rx="0.8"/><rect x="956.6" y="520.4" width="2.3" height="3.3" rx="0.8"/><rect x="969.6" y="519" width="2.3" height="3.3" rx="0.8"/></g>
  <!-- orange chair base -->
  <g stroke="#0E0D17" stroke-width="1.8" fill="none" stroke-linecap="round">
    <path d="M1002.4 508.4 Q1008 507.2 1010.6 508.4 M1003 508.6 Q1005.6 510.6 1006 513.4"/>
  </g>
  <g fill="#FBE6E0" stroke="#6b5a58" stroke-width="0.25"><rect x="1009.6" y="507.6" width="2.3" height="3.3" rx="0.8"/><rect x="1005" y="513.2" width="2.3" height="3.3" rx="0.8"/></g>

  <!-- front green chair -->
  <path d="M985.6 499.6 Q987.4 496 992.6 496.4 Q997.4 495.4 998.4 499.4 Q1001.6 509 1002.2 514.4 Q1002.6 521.4 996 525 Q991.4 527.2 986.4 524.6 Q979 521 979 516.6 Q983.6 508 985.6 499.6 Z" fill="#1FA85F" stroke="#157a45" stroke-width="0.3"/>
  <g stroke="#0E0D17" stroke-width="1.8" fill="none" stroke-linecap="round">
    <path d="M990.4 526 L991 531.6 M991 531.4 Q985.4 532 982.4 535.4 M991 531.4 Q994 533.4 995.6 537.6 M991 531.4 Q998 530 1001.6 531.6"/>
  </g>
  <g fill="#FBE6E0" stroke="#6b5a58" stroke-width="0.25"><rect x="981.4" y="535.4" width="2.4" height="3.5" rx="0.8"/><rect x="994.8" y="537.4" width="2.4" height="3.5" rx="0.8"/><rect x="1000.8" y="531.4" width="2.4" height="3.5" rx="0.8"/></g>

  <!-- plant -->
  <path d="M1022.4 516.4 Q1020.4 505 1020.4 489 Q1020.8 484.6 1022.6 485.8 Q1023.6 487 1023.6 495 L1024.6 497 Q1024.4 486 1025.2 483 Q1026.6 480.6 1027.8 483.2 Q1028.4 490 1028.2 497 L1029.4 496 Q1029.4 488 1030.6 484.4 Q1032 482.6 1032.8 485 Q1033.6 492 1033 500 Q1035 498 1034.6 505 Q1033.4 512 1029.4 516.6 Z" fill="#1FA85F" stroke="#157a45" stroke-width="0.3"/>
  <path d="M1026.4 492 L1026 512 M1030.8 494 Q1030.4 504 1028 512 M1022.6 496 Q1023 506 1024.4 513" fill="none" stroke="#157a45" stroke-width="0.3"/>
  <path d="M1019.6 516 L1031 516 L1029.6 532.6 Q1025.4 534.6 1021 532.6 Z" fill="#F9B550"/>
  <path d="M1019.6 516 Q1025 518.4 1031 516 L1030.9 517.4 Q1025 519.8 1019.7 517.4 Z" fill="#111"/>
</svg>

</body>
</html>
